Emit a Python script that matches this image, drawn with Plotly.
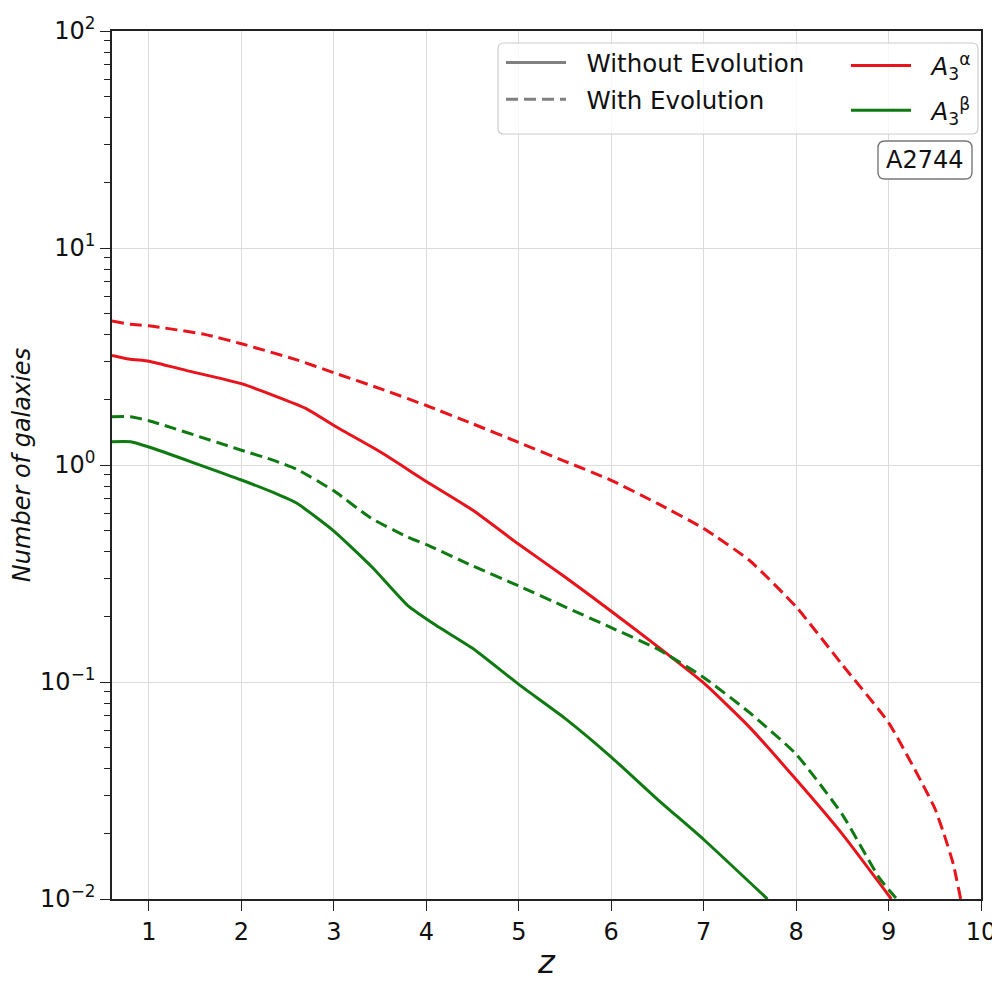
import plotly.graph_objects as go

# ---------------- data ----------------
z_alpha_noevo = [0.6, 0.8, 1.0, 1.4, 2.0, 2.7, 3.0, 3.5, 4.0, 4.5, 5.0, 5.5, 6.0, 6.5, 7.0, 7.5, 8.0, 8.5, 9.03]
n_alpha_noevo = [3.20, 3.07, 3.01, 2.73, 2.37, 1.82, 1.52, 1.15, 0.84, 0.62, 0.431, 0.305, 0.212, 0.146, 0.099, 0.0616, 0.0355, 0.0199, 0.01]

z_alpha_evo = [0.6, 0.8, 1.0, 1.6, 2.0, 2.6, 3.0, 3.5, 4.0, 4.5, 5.0, 5.5, 6.0, 6.5, 7.0, 7.5, 8.0, 8.5, 9.0, 9.35, 9.5, 9.6, 9.7, 9.78]
n_alpha_evo = [4.61, 4.45, 4.38, 4.00, 3.62, 3.05, 2.66, 2.25, 1.88, 1.55, 1.27, 1.04, 0.85, 0.665, 0.51, 0.362, 0.222, 0.12, 0.065, 0.035, 0.0262, 0.0199, 0.0145, 0.01]

z_beta_noevo = [0.6, 0.8, 1.0, 2.0, 2.35, 2.6, 3.0, 3.42, 3.8, 4.1, 4.5, 5.0, 5.5, 6.0, 6.5, 7.0, 7.69]
n_beta_noevo = [1.28, 1.28, 1.21, 0.853, 0.745, 0.666, 0.496, 0.336, 0.225, 0.183, 0.143, 0.0975, 0.068, 0.0451, 0.0288, 0.0188, 0.01]

z_beta_evo = [0.6, 0.8, 1.0, 2.0, 2.35, 2.6, 3.0, 3.4, 3.8, 4.0, 4.5, 5.0, 5.5, 6.0, 6.5, 7.0, 7.5, 8.0, 8.5, 8.9, 9.08]
n_beta_evo = [1.67, 1.67, 1.60, 1.17, 1.05, 0.955, 0.76, 0.57, 0.465, 0.43, 0.343, 0.277, 0.222, 0.178, 0.142, 0.105, 0.072, 0.0465, 0.0245, 0.0125, 0.0101]

x_ticks = [1, 2, 3, 4, 5, 6, 7, 8, 9, 10]
y_tickvals = [0.01, 0.1, 1, 10, 100]
y_ticktext = ["10<sup>\u22122</sup>", "10<sup>\u22121</sup>", "10<sup>0</sup>", "10<sup>1</sup>", "10<sup>2</sup>"]
y_minor_vals = [m * 10.0 ** e for e in (-2, -1, 0, 1) for m in range(2, 10)]

# ---------------- style ----------------
RED = "#e8131b"
GREEN = "#0f7a12"
GRAY = "#808080"
FONT = "DejaVu Sans"
LW = 3
DASH = "12px,6px"

# page offset of the figure inside the browser window (body margin)
OFF = 7
W, H = 990, 980
# desired plot area in screen pixels
SX0, SX1, SY0, SY1 = 111, 980, 30, 898
ML, MT = SX0 - OFF, SY0 - OFF
MR, MB = W - (SX1 - OFF), H - (SY1 - OFF)
PW, PH = SX1 - SX0, SY1 - SY0


def px2paper(sx, sy):
    return (sx - SX0) / PW, (SY1 - sy) / PH


def rounded_rect(x0, y0, x1, y1, r):
    def P(x, y):
        a, b = px2paper(x, y)
        return f"{a:.5f},{b:.5f}"
    return (f"M {P(x0 + r, y0)} L {P(x1 - r, y0)} Q {P(x1, y0)} {P(x1, y0 + r)} "
            f"L {P(x1, y1 - r)} Q {P(x1, y1)} {P(x1 - r, y1)} "
            f"L {P(x0 + r, y1)} Q {P(x0, y1)} {P(x0, y1 - r)} "
            f"L {P(x0, y0 + r)} Q {P(x0, y0)} {P(x0 + r, y0)} Z")


SP = "\u00a0\u00a0"
fig = go.Figure()

# legend-only style entries
fig.add_trace(go.Scatter(x=[None], y=[None], mode="lines", name=SP + "Without Evolution",
                         line=dict(color=GRAY, width=LW), legend="legend", legendgroup="g1"))
fig.add_trace(go.Scatter(x=[None], y=[None], mode="lines", name=SP + "With Evolution",
                         line=dict(color=GRAY, width=LW, dash=DASH), legend="legend", legendgroup="g2"))

# data
spl = dict(shape="spline", smoothing=0.5)
fig.add_trace(go.Scatter(x=z_alpha_noevo, y=n_alpha_noevo, mode="lines",
                         name=SP + "<i>A</i><sub>3</sub><sup>\u03b1</sup>",
                         line=dict(color=RED, width=LW, **spl), legend="legend2", legendgroup="g3"))
fig.add_trace(go.Scatter(x=z_beta_noevo, y=n_beta_noevo, mode="lines",
                         name=SP + "<i>A</i><sub>3</sub><sup>\u03b2</sup>",
                         line=dict(color=GREEN, width=LW, **spl), legend="legend2", legendgroup="g4"))
fig.add_trace(go.Scatter(x=z_alpha_evo, y=n_alpha_evo, mode="lines", showlegend=False,
                         line=dict(color=RED, width=LW, dash=DASH, **spl)))
fig.add_trace(go.Scatter(x=z_beta_evo, y=n_beta_evo, mode="lines", showlegend=False,
                         line=dict(color=GREEN, width=LW, dash=DASH, **spl)))

axis_common = dict(
    showline=True, linecolor="#222222", linewidth=1.6, mirror=True,
    ticks="outside", ticklen=10, tickwidth=1.4, tickcolor="#222222",
    showgrid=True, gridcolor="#dcdcdc", gridwidth=1,
    zeroline=False, automargin=False,
    tickfont=dict(family=FONT, size=24, color="#111111"),
)

lx, ly = px2paper(500, 39)
l2x, l2y = px2paper(845, 42)

fig.update_layout(
    width=W, height=H,
    margin=dict(l=ML, r=MR, t=MT, b=MB, pad=0, autoexpand=False),
    paper_bgcolor="white", plot_bgcolor="white",
    font=dict(family=FONT, size=24, color="#111111"),
    xaxis=dict(range=[0.6, 10], tickvals=x_ticks, ticktext=[str(t) for t in x_ticks],
               title=dict(text="<i>z</i>", font=dict(family=FONT, size=32), standoff=6),
               **axis_common),
    yaxis=dict(type="log", range=[-2, 2], tickvals=y_tickvals, ticktext=y_ticktext,
               title=dict(text="<i>Number of galaxies</i>", font=dict(family=FONT, size=24), standoff=6),
               minor=dict(tickvals=y_minor_vals, ticks="outside", ticklen=6, tickwidth=1.2,
                          tickcolor="#222222", showgrid=False),
               **axis_common),
    legend=dict(x=lx, y=ly, xanchor="left", yanchor="top", bgcolor="rgba(0,0,0,0)",
                borderwidth=0, font=dict(family=FONT, size=24.5), tracegroupgap=2,
                itemwidth=60),
    legend2=dict(x=l2x, y=l2y, xanchor="left", yanchor="top", bgcolor="rgba(0,0,0,0)",
                 borderwidth=0, font=dict(family=FONT, size=24.5), tracegroupgap=10,
                 itemwidth=60),
    shapes=[
        dict(type="path", xref="paper", yref="paper",
             path=rounded_rect(497, 42, 977, 133, 6),
             line=dict(color="#cccccc", width=1.2), fillcolor="rgba(255,255,255,0.8)", layer="above"),
        dict(type="path", xref="paper", yref="paper",
             path=rounded_rect(877, 140, 971, 178, 7),
             line=dict(color="#777777", width=1.4), fillcolor="white", layer="above"),
    ],
    annotations=[
        dict(text="A2744", xref="paper", yref="paper",
             x=px2paper(924, 159)[0], y=px2paper(924, 159)[1],
             xanchor="center", yanchor="middle", showarrow=False,
             font=dict(family=FONT, size=24, color="#111111")),
    ],
)

fig.write_html("out.html")
